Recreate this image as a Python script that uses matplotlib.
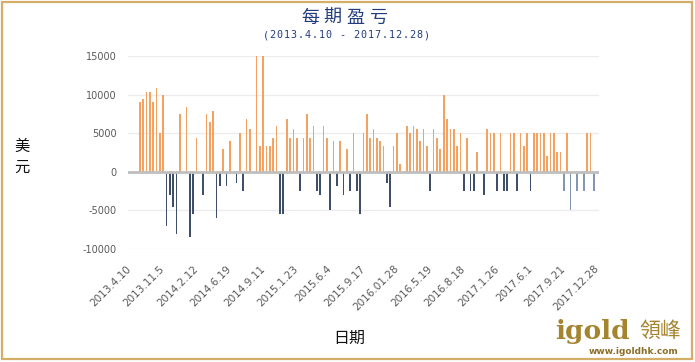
import matplotlib
matplotlib.use("Agg")
import matplotlib.pyplot as plt
from matplotlib.patches import Rectangle

plt.rcParams['font.family'] = ['Noto Sans CJK SC', 'DejaVu Sans']

# ---------------- data ----------------
tick_labels = ["2013.4.10", "2013.11.5", "2014.2.12", "2014.6.19", "2014.9.11",
               "2015.1.23", "2015.6.4", "2015.9.17", "2016.01.28", "2016.5.19",
               "2016.8.18", "2017.1.26", "2017.6.1", "2017.9.21", "2017.12.28"]

profit = [0, 0, 0, 9000, 9400, 10400, 10400, 9000, 10900, 5000,
          9900, -7000, -3000, -4500, -8000, 7500, 0, 8400, -8400, -5500,
          4400, 0, -3000, 7500, 6500, 7900, -6000, -1900, 2900, -1900,
          4000, 0, -1500, 5000, -2500, 6900, 5500, 0, 15000, 3400,
          15000, 3400, 3400, 4400, 5900, -5500, -5500, 6900, 4400, 5500,
          4400, -2500, 4400, 7500, 4400, 5900, -2500, -3000, 5900, 4400,
          -5000, 4000, -1900, 4000, -3000, 2900, -2500, 5000, -2500, -5500,
          5000, 7500, 4400, 5500, 4400, 4000, 3400, -1500, -4500, 3400,
          5000, 950, 0, 5900, 5000, 5900, 5500, 4000, 5500, 3400,
          -2500, 5500, 4400, 2900, 9900, 6900, 5500, 5500, 3400, 5000,
          -2500, 4400, -2500, -2500, 2500, 0, -3000, 5500, 5000, 5000,
          -2500, 5000, -2500, -2500, 5000, 5000, -2500, 5000, 3400, 5000,
          -2500, 5000, 5000, 5000, 5000, 2000, 5000, 5000, 2500, 2500,
          -2500, 5000, -5000, 0, -2500, 0, -2500, 5000, 5000, -2500,
          0]

y_ticks = [-10000, -5000, 0, 5000, 10000, 15000]

title = '每期盈亏'
subtitle = '(2013.4.10 - 2017.12.28)'

# ---------------- figure ----------------
W, H = 695, 362
fig = plt.figure(figsize=(W / 100, H / 100), dpi=100)
fig.patch.set_facecolor('white')

ax = fig.add_axes([128 / W, 1 - 249 / H, (599 - 128) / W, (249 - 56) / H])

n = len(profit)
xs = list(range(n))
colors = []
for i, v in enumerate(profit):
    if v >= 0:
        colors.append('#f4a261')
    elif i >= 130:
        colors.append('#8496b0')
    else:
        colors.append('#3f4f69')

ax.bar(xs, profit, width=0.5, color=colors, zorder=3)

ax.set_xlim(-0.5, n - 0.5)
ax.set_ylim(-10000, 15000)
ax.set_yticks(y_ticks)
ax.set_yticklabels([str(t) for t in y_ticks], fontfamily='DejaVu Sans',
                   fontsize=7, color='#595959')
ax.tick_params(axis='y', length=0, pad=8)
ax.grid(axis='y', color='#ececec', linewidth=1.0, zorder=0)
ax.axhline(0, color='#bfbfbf', linewidth=2.0, zorder=4)

ax.set_xticks(list(range(0, n, 10)))
ax.set_xticklabels(tick_labels, rotation=45, ha='right', va='center',
                   rotation_mode='anchor', fontfamily='DejaVu Sans',
                   fontsize=7.5, color='#595959')
ax.tick_params(axis='x', length=0, pad=13)

for s in ax.spines.values():
    s.set_visible(False)

# ---------------- texts ----------------
navy = '#223c7c'
t_step = 22.5
t_x0 = 344 - t_step * (len(title) - 1) / 2
for i, ch in enumerate(title):
    fig.text((t_x0 + i * t_step) / W, 1 - 18 / H, ch, ha='center', va='center',
             fontsize=13, color=navy, fontfamily='Noto Sans CJK SC')

s_step = 7.0
s_x0 = 346 - s_step * (len(subtitle) - 1) / 2
for i, ch in enumerate(subtitle):
    fig.text((s_x0 + i * s_step) / W, 1 - 35 / H, ch, ha='center',
             va='center', fontsize=7.3, color=navy, fontfamily='DejaVu Sans Mono')

fig.text(22 / W, 1 - 157 / H, '美\n元', ha='center', va='center',
         fontsize=11, color='#111111', linespacing=1.35,
         fontfamily='Noto Sans CJK SC')
fig.text(349 / W, 1 - 338 / H, '日期', ha='center', va='center',
         fontsize=11.5, color='#111111', fontfamily='Noto Sans CJK SC')

# logo
gold = '#a5842f'
fig.text(592 / W, 1 - 331 / H, 'igold', ha='center', va='center',
         fontsize=19, fontweight='bold', color=gold, fontfamily='DejaVu Serif')
fig.text(660 / W, 1 - 331 / H, '領峰', ha='center', va='center',
         fontsize=15, color=gold, fontfamily='Noto Sans CJK TC')
fig.text(634 / W, 1 - 351 / H, 'www.igoldhk.com', ha='center', va='center',
         fontsize=6.5, fontweight='bold', color='#8c6e28', fontfamily='DejaVu Sans')

# border
fig.patches.append(Rectangle((2 / W, 3 / H), 690 / W, 357 / H,
                             transform=fig.transFigure, fill=False,
                             edgecolor='#d4ad66', linewidth=1.6))

fig.savefig('out.png', dpi=100, facecolor='white')
